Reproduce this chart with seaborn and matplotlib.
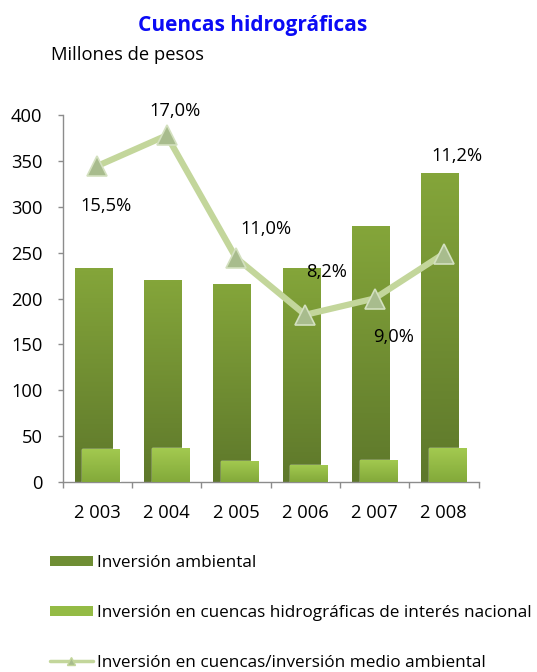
import numpy as np
import pandas as pd
import matplotlib
matplotlib.use("Agg")
import matplotlib.pyplot as plt
import seaborn as sns
from matplotlib.colors import LinearSegmentedColormap
from matplotlib.patches import Patch
from matplotlib.lines import Line2D

# ---- data ----
years = ["2 003", "2 004", "2 005", "2 006", "2 007", "2 008"]
inversion_ambiental = [233, 220, 216, 233, 279, 337]
inversion_cuencas = [36, 37, 23, 19, 24, 37]
porcentaje = [15.5, 17.0, 11.0, 8.2, 9.0, 11.2]
y_ticks = [0, 50, 100, 150, 200, 250, 300, 350, 400]

title = "Cuencas hidrográficas"
subtitle = "Millones de pesos"
legend_labels = [
    "Inversión ambiental",
    "Inversión en cuencas hidrográficas de interés nacional",
    "Inversión en cuencas/inversión medio ambiental",
]

# label offsets (pixels) relative to each line point
label_offsets = [(9, -45), (8, 19), (30, 24), (21, 38), (19, -43), (13, 93)]

sns.set_theme(style="white")
plt.rcParams['font.family'] = ['Open Sans', 'DejaVu Sans']
plt.rcParams['text.color'] = 'black'

FS = 13.2
LFS = 12.3
W, H = 537, 672
fig = plt.figure(figsize=(W / 100, H / 100), dpi=100)
ax = fig.add_axes([62.7 / W, 1 - 482 / H, (478.5 - 62.7) / W, (482 - 115) / H])

df = pd.DataFrame({"year": years, "amb": inversion_ambiental,
                   "cue": inversion_cuencas, "pct": porcentaje})

sns.barplot(data=df, x="year", y="amb", ax=ax, color="#739338", width=0.54,
            saturation=1, errorbar=None)
n1 = len(ax.patches)
sns.barplot(data=df, x="year", y="cue", ax=ax, color="#94bb45", width=0.54,
            saturation=1, errorbar=None)

shift = 0.055
for p in ax.patches[:n1]:
    p.set_x(p.get_x() - shift)
    p.set_zorder(2)
for p in ax.patches[n1:]:
    p.set_x(p.get_x() + shift)
    p.set_zorder(3)


def gradient(patch, c_top, c_bot, z):
    x0, y0 = patch.get_x(), patch.get_y()
    w, h = patch.get_width(), patch.get_height()
    cmap = LinearSegmentedColormap.from_list("g", [c_bot, c_top])
    img = ax.imshow(np.linspace(0, 1, 64).reshape(-1, 1), cmap=cmap,
                    extent=[x0, x0 + w, y0, y0 + h], origin="lower",
                    aspect="auto", zorder=z, interpolation="bilinear")
    img.set_clip_path(patch)


for p in ax.patches[:n1]:
    gradient(p, "#84a53a", "#5e782b", 2.1)
for p in ax.patches[n1:]:
    gradient(p, "#a3ca50", "#83a93a", 3.1)

ax.set_xlim(-0.5, len(years) - 0.5)
ax.set_ylim(0, 400)
ax.set_yticks(y_ticks)
ax.set_xticks(range(len(years)))
ax.set_xticklabels(years)
ax.set_xticks(np.arange(-0.5, len(years), 1), minor=True)
ax.set_xlabel("")
ax.set_ylabel("")
for s in ["top", "right"]:
    ax.spines[s].set_visible(False)
for s in ["left", "bottom"]:
    ax.spines[s].set_color("#8c8c8c")
    ax.spines[s].set_linewidth(1.0)
ax.tick_params(axis="y", which="major", left=True, length=3.6, width=1,
               color="#8c8c8c", labelcolor="black", labelsize=FS, pad=11)
ax.tick_params(axis="x", which="major", bottom=False, length=0,
               labelcolor="black", labelsize=FS, pad=16)
ax.tick_params(axis="x", which="minor", bottom=True, length=4.3, width=1,
               color="#8c8c8c")

# ---- line on secondary axis ----
ax2 = ax.twinx()
sns.pointplot(data=df, x="year", y="pct", ax=ax2, color="#c3d69b",
              markers="^", errorbar=None)
ln = ax2.lines[0]
ln.set_linewidth(4.5)
ln.set_markersize(15)
ln.set_markerfacecolor("#a8bc8d")
ln.set_markeredgecolor("#d3e0bf")
ln.set_markeredgewidth(1.2)
ax2.set_ylim(0, 18)
ax2.set_xlim(-0.5, len(years) - 0.5)
ax2.set_yticks([])
ax2.set_ylabel("")
ax2.set_xlabel("")
for s in ax2.spines.values():
    s.set_visible(False)

for i, (v, (dx, dy)) in enumerate(zip(porcentaje, label_offsets)):
    ax2.annotate(f"{v:.1f}%".replace(".", ","), (i, v), xytext=(dx, dy),
                 textcoords="offset pixels", ha="center", va="baseline",
                 fontsize=FS, color="black")

# ---- titles ----
fig.text(253 / W, 1 - 31.5 / H, title, ha="center", va="baseline",
         fontsize=15.0, fontweight="bold", color="#0a0af5")
fig.text(50.7 / W, 1 - 59.5 / H, subtitle, ha="left", va="baseline",
         fontsize=FS, color="black")

# ---- legend ----
handles = [
    Patch(facecolor="#6f8e34", edgecolor="none"),
    Patch(facecolor="#94bb45", edgecolor="none"),
    Line2D([], [], color="#c3d69b", lw=2.5, marker="^", markersize=6,
           markerfacecolor="#a8bc8d", markeredgecolor="#c3d69b"),
]
fig.legend(handles, legend_labels, loc="upper left",
           bbox_to_anchor=(50 / W, 1 - 555 / H), frameon=False, fontsize=LFS,
           handlelength=2.5, handleheight=0.52, handletextpad=0.27,
           labelspacing=1.98, borderpad=0, borderaxespad=0)

fig.savefig("out.png", dpi=100)
